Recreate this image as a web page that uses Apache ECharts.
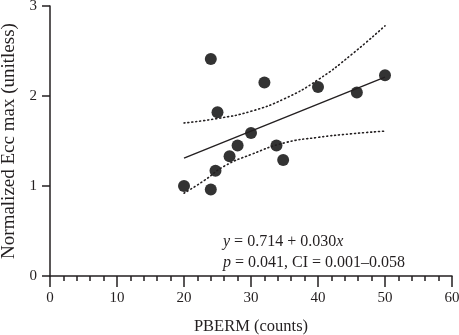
<!DOCTYPE html>
<html>
<head>
    <meta charset="UTF-8">
    <title>PBERM vs Ecc max</title>
    <script src="https://cdn.jsdelivr.net/npm/echarts@6/dist/echarts.min.js"></script>
    <style>
        html, body { margin: 0; padding: 0; background: #fff; }
        #chart { width: 459px; height: 335px; }
    </style>
</head>
<body>
<div id="chart"></div>
<script>
    // measured points (PBERM counts, normalized Ecc max)
    var points = [
        [20, 1.00], [24, 0.96], [24.7, 1.17], [26.8, 1.33], [28, 1.45],
        [30, 1.59], [25, 1.82], [24, 2.41], [32, 2.15], [33.8, 1.45],
        [34.8, 1.29], [40, 2.10], [45.8, 2.04], [50, 2.23]
    ];
    // fitted line end points
    var fitLine = [[20, 1.31], [50, 2.21]];
    // 95% confidence band
    var upperBand = [[20, 1.70], [25, 1.75], [30, 1.83], [35, 1.97], [40, 2.18], [45, 2.46], [50, 2.78]];
    var lowerBand = [[20, 0.92], [23, 1.06], [26, 1.22], [30, 1.35], [35, 1.48], [40, 1.54], [45, 1.58], [50, 1.61]];

    var serif = 'Liberation Serif';
    var ink = '#231f20';

    var chart = echarts.init(document.getElementById('chart'));
    var option = {
        animation: false,
        grid: { left: 50, right: 7, top: 6, bottom: 59, containLabel: false, outerBoundsMode: 'none' },
        xAxis: {
            type: 'value',
            min: 0, max: 60, interval: 10,
            name: 'PBERM (counts)',
            nameLocation: 'middle',
            nameGap: 42,
            nameTextStyle: { fontFamily: serif, fontSize: 16.5, color: ink },
            axisLine: { lineStyle: { color: ink, width: 1.5 } },
            axisTick: { length: 11, lineStyle: { color: ink, width: 1.5 } },
            minorTick: { show: true, splitNumber: 5, length: 5, lineStyle: { color: ink, width: 1.5 } },
            axisLabel: { fontFamily: serif, fontSize: 15, color: ink, margin: 15 },
            splitLine: { show: false }
        },
        yAxis: {
            type: 'value',
            min: 0, max: 3, interval: 1,
            name: 'Normalized Ecc max (unitless)',
            nameLocation: 'middle',
            nameGap: 27,
            nameTextStyle: { fontFamily: serif, fontSize: 19, color: ink },
            axisLine: { show: true, lineStyle: { color: ink, width: 1.5 } },
            axisTick: { show: true, length: 8, lineStyle: { color: ink, width: 1.5 } },
            axisLabel: { fontFamily: serif, fontSize: 15, color: ink, margin: 13 },
            splitLine: { show: false }
        },
        series: [
            {
                type: 'line', data: upperBand, smooth: true, symbol: 'none',
                lineStyle: { color: ink, width: 1.6, type: [1, 3], cap: 'round' }
            },
            {
                type: 'line', data: lowerBand, smooth: true, symbol: 'none',
                lineStyle: { color: ink, width: 1.6, type: [1, 3], cap: 'round' }
            },
            {
                type: 'line', data: fitLine, symbol: 'none',
                lineStyle: { color: ink, width: 1.4 }
            },
            {
                type: 'scatter', data: points, symbol: 'circle', symbolSize: 12,
                itemStyle: { color: '#000' }
            }
        ],
        graphic: [
            {
                type: 'text', left: 223, top: 234,
                style: {
                    text: '{i|y} = 0.714 + 0.030{i|x}',
                    fontFamily: serif, fontSize: 16, fill: ink,
                    rich: { i: { fontStyle: 'italic', fontFamily: serif, fontSize: 16 } }
                }
            },
            {
                type: 'text', left: 223, top: 255,
                style: {
                    text: '{i|p} = 0.041, CI = 0.001\u20130.058',
                    fontFamily: serif, fontSize: 16, fill: ink,
                    rich: { i: { fontStyle: 'italic', fontFamily: serif, fontSize: 16 } }
                }
            }
        ]
    };
    chart.setOption(option);
</script>
</body>
</html>
